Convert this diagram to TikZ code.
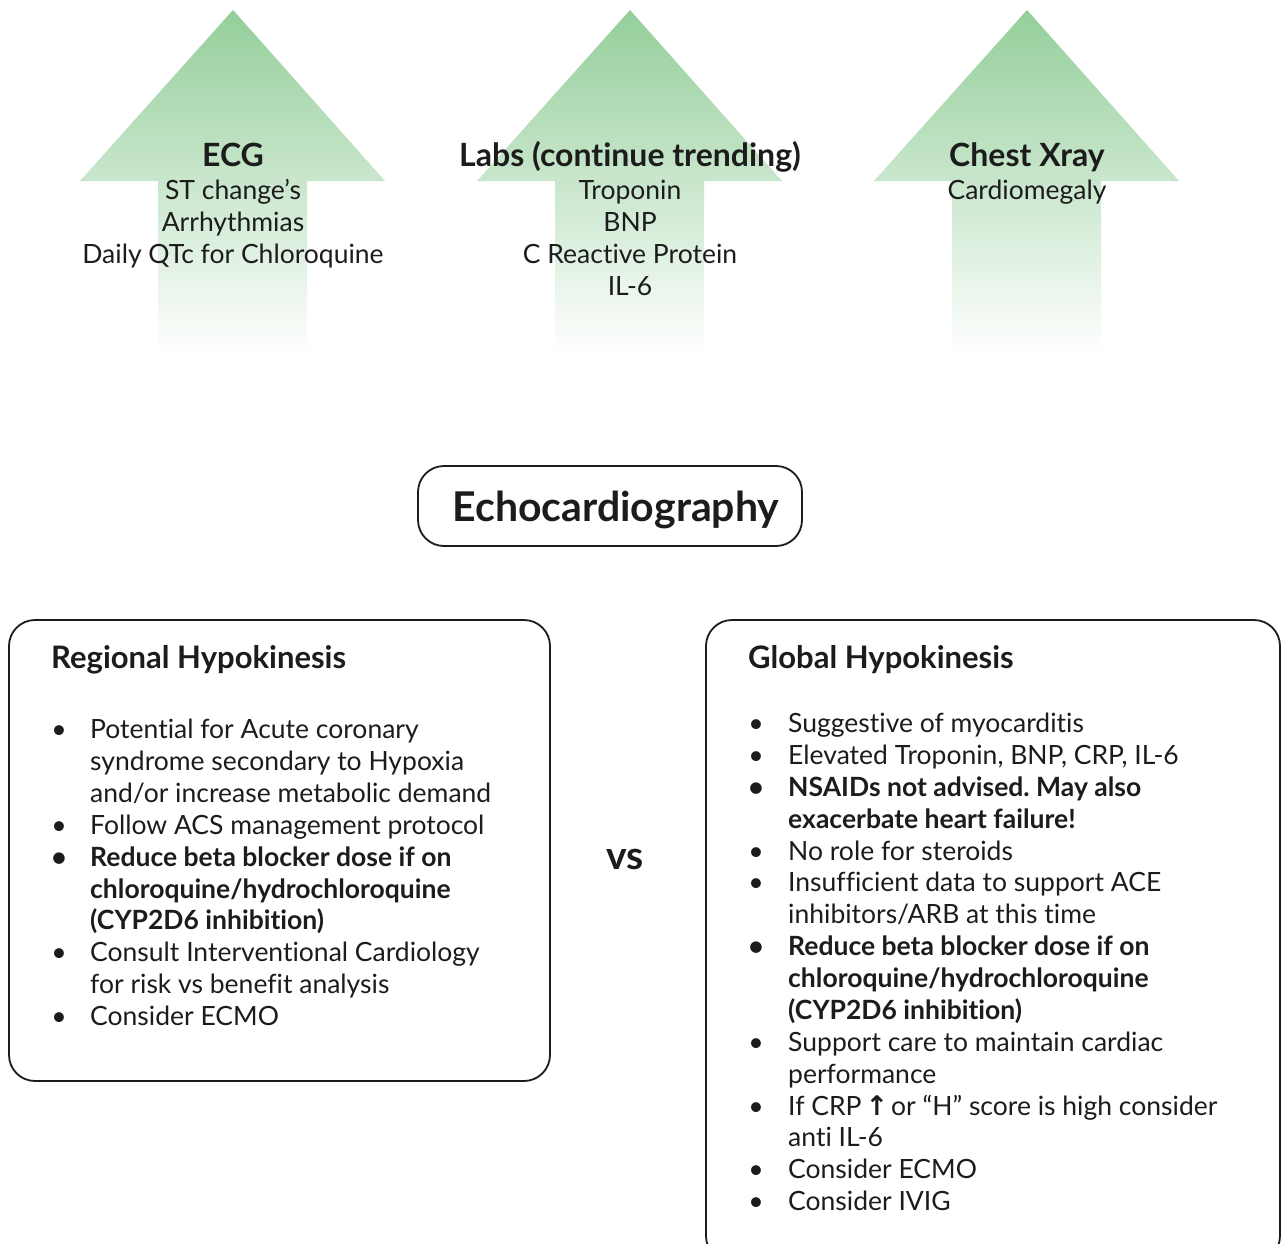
\documentclass[tikz,border=0pt]{standalone}
\usepackage{fontspec}
\setmainfont{Lato}[RawFeature={-liga}]
\newfontfamily\djv{DejaVu Sans}
\frenchspacing
\definecolor{ink}{RGB}{28,28,28}
\definecolor{agreen}{RGB}{148,206,154}
\definecolor{amid}{RGB}{200,231,202}
\tikzset{
  body/.style={font=\fontsize{26.5}{30}\selectfont, text=ink, inner sep=0pt},
  bodyb/.style={font=\fontsize{26.5}{30}\selectfont\bfseries, text=ink, inner sep=0pt},
  head/.style={font=\fontsize{32}{36}\selectfont\bfseries, text=ink, inner sep=0pt},
  title/.style={font=\fontsize{31}{34}\selectfont\bfseries, text=ink, inner sep=0pt},
  frame/.style={draw=ink, line width=1.8pt, rounded corners=26pt},
}
\newcommand\uparrowshape[1]{%
  \shade[top color=agreen, middle color=amid, bottom color=white, shading angle=0]
   (#1,10) -- (#1+152,181) -- (#1+74,181) -- (#1+74,356) -- (#1-75,356)
   -- (#1-75,181) -- (#1-153,181) -- cycle;}
\begin{document}
\begin{tikzpicture}[x=1pt,y=-1pt]
\clip (0,0) rectangle (1282,1244);
\fill[white] (0,0) rectangle (1282,1244);
% arrows
\uparrowshape{233}
\uparrowshape{630}
\uparrowshape{1027}
% ECG
\node[head, anchor=base] (ecg) at (233,167) {ECG};
\node[body, anchor=base] (ecg1) at (233,199) {ST change’s};
\node[body, anchor=base] (ecg2) at (233,231) {Arrhythmias};
\node[body, anchor=base] (ecg3) at (233,263) {Daily QTc for Chloroquine};
% Labs
\node[head, anchor=base] (labs) at (630,167) {Labs (continue trending)};
\node[body, anchor=base] (labs1) at (630,199) {Troponin};
\node[body, anchor=base] (labs2) at (630,231) {BNP};
\node[body, anchor=base] (labs3) at (630,263) {C Reactive Protein};
\node[body, anchor=base] (labs4) at (630,295) {IL-6};
% Chest
\node[head, anchor=base] (cxr) at (1027,167) {Chest Xray};
\node[body, anchor=base] (cxr1) at (1027,199) {Cardiomegaly};
% Echo
\draw[frame] (418,466) rectangle (802,546);
\node[font=\fontsize{41}{44}\selectfont\bfseries, text=ink, inner sep=0pt, anchor=base] (echo) at (616,521) {Echocardiography};
% vs
\node[font=\fontsize{39}{42}\selectfont\bfseries, text=ink, inner sep=0pt, anchor=base] (vs) at (625,869) {vs};
% Left box
\draw[frame] (9,620) rectangle (550,1081);
\node[title, anchor=base west] (lt) at (51,668) {Regional Hypokinesis};
\node[body, anchor=base] (lb1) at (59,738) {•};
\node[body, anchor=base west] (l1) at (90,738) {Potential for Acute coronary};
\node[body, anchor=base west] (l2) at (90,770) {syndrome secondary to Hypoxia};
\node[body, anchor=base west] (l3) at (90,802) {and/or increase metabolic demand};
\node[body, anchor=base] (lb2) at (59,834) {•};
\node[body, anchor=base west] (l4) at (90,834) {Follow ACS management protocol};
\node[bodyb, anchor=base] (lb3) at (59,866) {•};
\node[bodyb, anchor=base west] (l5) at (90,866) {Reduce beta blocker dose if on};
\node[bodyb, anchor=base west] (l6) at (90,898) {chloroquine/hydrochloroquine};
\node[bodyb, anchor=base west] (l7) at (90,929) {(CYP2D6 inhibition)};
\node[body, anchor=base] (lb4) at (59,961) {•};
\node[body, anchor=base west] (l8) at (90,961) {Consult Interventional Cardiology};
\node[body, anchor=base west] (l9) at (90,993) {for risk vs benefit analysis};
\node[body, anchor=base] (lb5) at (59,1025) {•};
\node[body, anchor=base west] (l10) at (90,1025) {Consider ECMO};
% Right box
\draw[frame] (706,620) rectangle (1280,1262);
\node[title, anchor=base west] (rt) at (748,668) {Global Hypokinesis};
\node[body, anchor=base] (rb1) at (756,732) {•};
\node[body, anchor=base west] (r1) at (788,732) {Suggestive of myocarditis};
\node[body, anchor=base] (rb2) at (756,764) {•};
\node[body, anchor=base west] (r2) at (788,764) {Elevated Troponin, BNP, CRP, IL-6};
\node[bodyb, anchor=base] (rb3) at (756,796) {•};
\node[bodyb, anchor=base west] (r3) at (788,796) {NSAIDs not advised. May also};
\node[bodyb, anchor=base west] (r4) at (788,828) {exacerbate heart failure!};
\node[body, anchor=base] (rb4) at (756,860) {•};
\node[body, anchor=base west] (r5) at (788,860) {No role for steroids};
\node[body, anchor=base] (rb5) at (756,891) {•};
\node[body, anchor=base west] (r6) at (788,891) {Insufficient data to support ACE};
\node[body, anchor=base west] (r7) at (788,923) {inhibitors/ARB at this time};
\node[bodyb, anchor=base] (rb6) at (756,955) {•};
\node[bodyb, anchor=base west] (r8) at (788,955) {Reduce beta blocker dose if on};
\node[bodyb, anchor=base west] (r9) at (788,987) {chloroquine/hydrochloroquine};
\node[bodyb, anchor=base west] (r10) at (788,1019) {(CYP2D6 inhibition)};
\node[body, anchor=base] (rb7) at (756,1051) {•};
\node[body, anchor=base west] (r11) at (788,1051) {Support care to maintain cardiac};
\node[body, anchor=base west] (r12) at (788,1083) {performance};
\node[body, anchor=base] (rb8) at (756,1115) {•};
\node[body, anchor=base west] (r13) at (788,1115) {If CRP\kern4pt{\djv\bfseries\fontsize{27}{30}\selectfont ↑}\kern3pt or “H” score is high consider};
\node[body, anchor=base west] (r14) at (788,1146) {anti IL-6};
\node[body, anchor=base] (rb9) at (756,1178) {•};
\node[body, anchor=base west] (r15) at (788,1178) {Consider ECMO};
\node[body, anchor=base] (rb10) at (756,1210) {•};
\node[body, anchor=base west] (r16) at (788,1210) {Consider IVIG};
\end{tikzpicture}
\end{document}
